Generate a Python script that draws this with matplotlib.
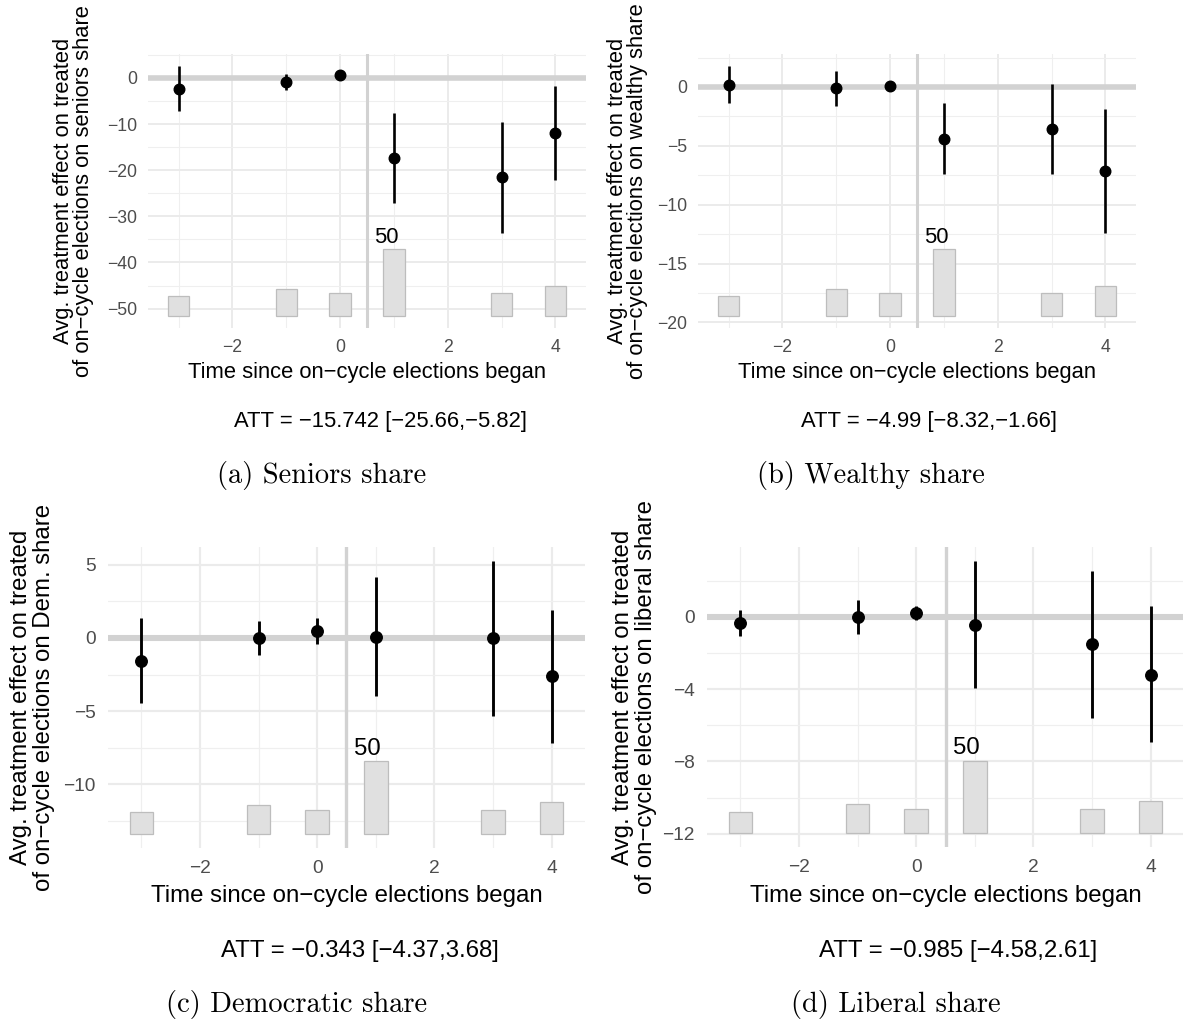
import matplotlib
matplotlib.use("Agg")
import matplotlib.pyplot as plt
from matplotlib.ticker import MultipleLocator
import numpy as np

W, H, DPI = 1183, 1021, 100

# ---------------- data ----------------
periods = [-3, -1, 0, 1, 3, 4]
counts = [15, 20, 17, 50, 17, 22]

seniors_est = [-2.3, -0.9, 0.6, -17.4, -21.5, -12.0]
seniors_lo = [-7.1, -2.5, 0.2, -27.1, -33.5, -22.2]
seniors_hi = [2.5, 0.8, 1.0, -7.5, -9.5, -1.8]

wealthy_est = [0.2, -0.08, 0.08, -4.44, -3.6, -7.1]
wealthy_lo = [-1.4, -1.6, -0.15, -7.42, -7.42, -12.36]
wealthy_hi = [1.74, 1.35, 0.3, -1.4, 0.28, -1.85]

dem_est = [-1.57, 0.02, 0.48, 0.09, 0.0, -2.62]
dem_lo = [-4.46, -1.16, -0.41, -3.96, -5.33, -7.18]
dem_hi = [1.34, 1.16, 1.37, 4.17, 5.28, 1.94]

lib_est = [-0.33, 0.0, 0.22, -0.42, -1.49, -3.19]
lib_lo = [-1.03, -0.94, -0.17, -3.96, -5.57, -6.95]
lib_hi = [0.37, 0.94, 0.63, 3.12, 2.56, 0.59]

outcomes = ["seniors share", "wealthy share", "Dem. share", "liberal share"]
att_labels = ["ATT = \u221215.742 [\u221225.66,\u22125.82]",
              "ATT = \u22124.99 [\u22128.32,\u22121.66]",
              "ATT = \u22120.343 [\u22124.37,3.68]",
              "ATT = \u22120.985 [\u22124.58,2.61]"]
captions = ["(a) Seniors share", "(b) Wealthy share",
            "(c) Democratic share", "(d) Liberal share"]
y_steps = [10, 5, 5, 4]
x_title = "Time since on\u2212cycle elections began"
y_title_1 = "Avg. treatment effect on treated"
y_title_2 = "of on\u2212cycle elections on {}"

# ---------------- layout (pixels) ----------------
# left, right, top, bottom of plot panels
panels = [(148, 586, 54, 328), (698, 1136, 54, 328),
          (108, 585, 547, 848), (707, 1184, 547, 847)]
scales = [1.0, 1.0, 1.09, 1.09]
ylab_x = [(64, 84), (618, 638), (21, 44), (623, 646)]
ylab_y = [191, 191, 697, 697]
xtitle_base = [378, 378, 902, 902]
att_pos = [(380, 427), (929, 427), (360, 957), (958, 957)]
cap_pos = [(322, 483), (871, 483), (297, 1012), (896, 1012)]

plt.rcParams["font.family"] = ["Liberation Sans", "DejaVu Sans"]
plt.rcParams["axes.unicode_minus"] = True

fig = plt.figure(figsize=(W / DPI, H / DPI), dpi=DPI)
fig.patch.set_facecolor("white")

def fx(px):
    return px / W

def fy(py):
    return 1 - py / H

data = [(seniors_est, seniors_lo, seniors_hi),
        (wealthy_est, wealthy_lo, wealthy_hi),
        (dem_est, dem_lo, dem_hi),
        (lib_est, lib_lo, lib_hi)]

base_pt = 22 * 72 / DPI

for i, (est, lo, hi) in enumerate(data):
    l, r, t, b = panels[i]
    s = scales[i]
    fs = base_pt * s
    ax = fig.add_axes([fx(l), fy(b), (r - l) / W, (b - t) / H])
    ax.set_facecolor("white")
    est = np.array(est); lo = np.array(lo); hi = np.array(hi)
    cnt = np.array(counts, dtype=float)
    ymin, ymax = lo.min(), hi.max()
    R = ymax - ymin
    base = ymin - 0.5 * R
    heights = cnt / cnt.max() * 0.4 * R
    # grid
    ax.xaxis.set_major_locator(MultipleLocator(2))
    ax.xaxis.set_minor_locator(MultipleLocator(1))
    ax.yaxis.set_major_locator(MultipleLocator(y_steps[i]))
    ax.yaxis.set_minor_locator(MultipleLocator(y_steps[i] / 2))
    ax.grid(which="major", color="#EBEBEB", lw=1.4 * s, zorder=0)
    ax.grid(which="minor", color="#EFEFEF", lw=0.8 * s, zorder=0)
    ax.set_axisbelow(True)
    for sp in ax.spines.values():
        sp.set_visible(False)
    ax.tick_params(which="both", length=0)
    ax.tick_params(axis="y", pad=8.0 * s, labelsize=fs * 0.8, labelcolor="#4D4D4D")
    ax.tick_params(axis="x", pad=8.0 * s, labelsize=fs * 0.8, labelcolor="#4D4D4D")
    # reference lines
    ax.axhline(0, color="#D2D2D2", lw=4.0 * s, zorder=1)
    ax.axvline(0.5, color="#D2D2D2", lw=2.2 * s, zorder=1)
    # count bars
    ax.bar(periods, heights, bottom=base, width=0.4, color="#E0E0E0",
           edgecolor="#BDBDBD", linewidth=0.9, zorder=2)
    k = int(np.argmax(cnt))
    ax.text(periods[k] - 0.15, base + heights[k] + 0.035 * R, str(int(cnt.max())),
            ha="center", va="baseline", fontsize=fs, color="black", zorder=3)
    # estimates
    ax.vlines(periods, lo, hi, color="black", lw=1.9 * s, zorder=4)
    ax.plot(periods, est, "o", color="black", ms=7.6 * s, zorder=5)
    ax.set_xlim(-3.2 - 0.37, 4.2 + 0.37)
    ax.set_ylim(base - 0.05 * (ymax - base), ymax + 0.05 * (ymax - base))
    # texts
    fig.text(fx((l + r) / 2), fy(xtitle_base[i]), x_title, ha="center",
             va="baseline", fontsize=fs, color="black")
    fig.text(fx(ylab_x[i][0]), fy(ylab_y[i]), y_title_1, rotation=90,
             ha="center", va="center", fontsize=fs, color="black")
    fig.text(fx(ylab_x[i][1]), fy(ylab_y[i]), y_title_2.format(outcomes[i]),
             rotation=90, ha="center", va="center", fontsize=fs, color="black")
    fig.text(fx(att_pos[i][0]), fy(att_pos[i][1]), att_labels[i], ha="center",
             va="baseline", fontsize=fs, color="black")
    fig.text(fx(cap_pos[i][0]), fy(cap_pos[i][1]), captions[i], ha="center",
             va="baseline", fontsize=20.5, family="cmr10", color="black")

fig.savefig("out.png", dpi=DPI, facecolor="white")
